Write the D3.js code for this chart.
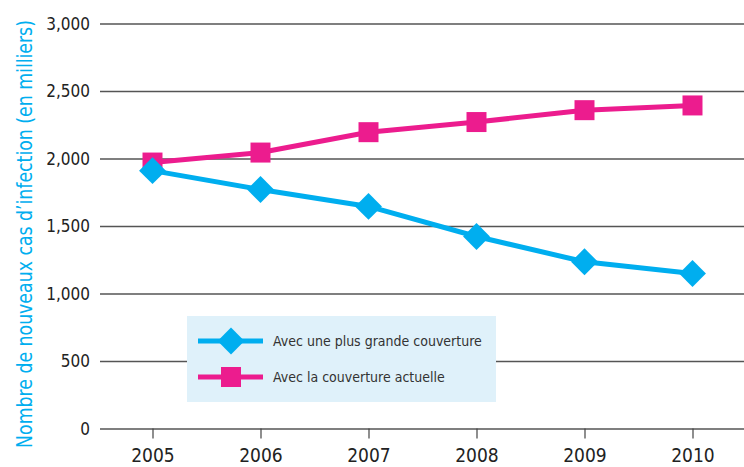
<!DOCTYPE html>
<html>
<head>
<meta charset="utf-8">
<script src="https://cdn.jsdelivr.net/npm/d3@7"></script>
<style>
  html, body { margin: 0; padding: 0; background: #fff; }
  svg { display: block; }
  text { font-family: "Liberation Sans Narrow", "Arial Narrow", "DejaVu Sans Condensed", sans-serif; }
</style>
</head>
<body>
<svg id="chart" width="744" height="467"></svg>
<script>
// Years on the horizontal axis
const years = [2005, 2006, 2007, 2008, 2009, 2010];
// New infections (thousands) with wider coverage
const widerCoverage = [1910, 1770, 1645, 1422, 1235, 1148];
// New infections (thousands) with current coverage
const currentCoverage = [1970, 2044, 2195, 2270, 2358, 2393];
// Value axis ticks
const yTicks = [0, 500, 1000, 1500, 2000, 2500, 3000];
const seriesNames = ["Avec une plus grande couverture", "Avec la couverture actuelle"];
const yTitle = "Nombre de nouveaux cas d\u2019infection (en milliers)";

const BLUE = "#00aeef";
const PINK = "#ec1c8e";

const svg = d3.select("#chart");

const x = d3.scalePoint().domain(years).range([152.5, 692.5]);
const y = d3.scaleLinear().domain([0, 3000]).range([428.5, 23.5]);

// Horizontal gridlines with value labels
const yAxis = d3.axisLeft(y)
  .tickValues(yTicks)
  .tickFormat(d3.format(","))
  .tickSize(-644)
  .tickPadding(10);
const gy = svg.append("g").attr("transform", "translate(100,0)").call(yAxis);
gy.select(".domain").remove();
gy.selectAll(".tick line").attr("stroke", "#555").attr("stroke-width", 1.3);
gy.selectAll(".tick text")
  .attr("fill", "#222")
  .attr("font-size", 17)
  .attr("x", -10)
  .attr("dy", "0.34em");

// Year ticks and labels hanging below the zero line
const xAxis = d3.axisBottom(x).tickSize(10).tickPadding(10).tickFormat(d3.format("d"));
const gx = svg.append("g").attr("transform", "translate(0,428.5)").call(xAxis);
gx.select(".domain").remove();
gx.selectAll(".tick line").attr("stroke", "#444").attr("stroke-width", 1.2);
gx.selectAll(".tick text").attr("fill", "#222").attr("font-size", 19);

// Vertical axis title: sized to run along the plot height, then stretched
// across its glyph height to read as a tall condensed face
const titleLen = 428, titleGlyph = 21;
const title = svg.append("text")
  .attr("text-anchor", "middle")
  .attr("fill", BLUE)
  .attr("font-size", 17)
  .text(yTitle);
const fs = 17 * titleLen / title.node().getComputedTextLength();
title.attr("font-size", fs)
  .attr("dy", "0.35em")
  .attr("transform", `translate(25,234) rotate(-90) scale(1,${titleGlyph / fs})`);

// Legend
const legend = svg.append("g");
legend.append("rect")
  .attr("x", 187).attr("y", 316).attr("width", 309).attr("height", 86)
  .attr("fill", "#dff1fa");

const diamond = d3.symbol().type(d3.symbolSquare).size(19 * 19);
const square = d3.symbol().type(d3.symbolSquare).size(20 * 20);

const line = d3.line().x((d, i) => x(years[i])).y(d => y(d));

// Current coverage series (drawn first, under the other series)
svg.append("path").datum(currentCoverage)
  .attr("d", line).attr("fill", "none")
  .attr("stroke", PINK).attr("stroke-width", 5).attr("stroke-linejoin", "round");
svg.append("g").selectAll("path").data(currentCoverage).join("path")
  .attr("d", square)
  .attr("transform", (d, i) => `translate(${x(years[i])},${y(d)})`)
  .attr("fill", PINK);

// Wider coverage series
svg.append("path").datum(widerCoverage)
  .attr("d", line).attr("fill", "none")
  .attr("stroke", BLUE).attr("stroke-width", 5).attr("stroke-linejoin", "round");
svg.append("g").selectAll("path").data(widerCoverage).join("path")
  .attr("d", diamond)
  .attr("transform", (d, i) => `translate(${x(years[i])},${y(d)}) rotate(45)`)
  .attr("fill", BLUE);

// Legend entries
const entries = [
  { name: seriesNames[0], color: BLUE, cy: 341, marker: diamond, rot: 45 },
  { name: seriesNames[1], color: PINK, cy: 377, marker: square, rot: 0 }
];
entries.forEach(e => {
  legend.append("line")
    .attr("x1", 198).attr("x2", 263).attr("y1", e.cy).attr("y2", e.cy)
    .attr("stroke", e.color).attr("stroke-width", 5);
  legend.append("path")
    .attr("d", e.marker)
    .attr("transform", `translate(231,${e.cy}) rotate(${e.rot})`)
    .attr("fill", e.color);
  legend.append("text")
    .attr("x", 273).attr("y", e.cy).attr("dy", "0.35em")
    .attr("fill", "#333").attr("font-size", 14)
    .text(e.name);
});
</script>
</body>
</html>
